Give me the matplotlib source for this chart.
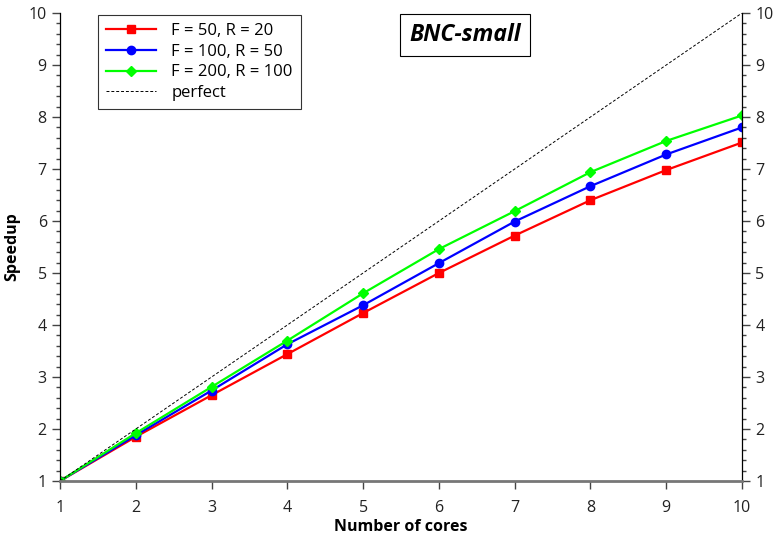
import matplotlib
matplotlib.use("Agg")
import matplotlib.pyplot as plt
from matplotlib.ticker import MultipleLocator

plt.rcParams['font.family'] = ['Open Sans', 'DejaVu Sans']

cores = [1, 2, 3, 4, 5, 6, 7, 8, 9, 10]
speed_f50 = [1.0, 1.85, 2.65, 3.44, 4.23, 5.00, 5.72, 6.40, 6.98, 7.51]
speed_f100 = [1.0, 1.88, 2.74, 3.63, 4.38, 5.19, 5.99, 6.67, 7.28, 7.80]
speed_f200 = [1.0, 1.92, 2.81, 3.70, 4.61, 5.46, 6.19, 6.94, 7.54, 8.03]
perfect = [1, 2, 3, 4, 5, 6, 7, 8, 9, 10]

fig = plt.figure(figsize=(7.77, 5.35), dpi=100)
ax = fig.add_axes([0.0772, 0.1009, 0.8778, 0.8748])

ax.plot(cores, speed_f50, color='#ff0000', lw=1.6, marker='s', ms=6, label='F = 50, R = 20')
ax.plot(cores, speed_f100, color='#0000ff', lw=1.6, marker='o', ms=6, label='F = 100, R = 50')
ax.plot(cores, speed_f200, color='#00ff00', lw=1.6, marker='D', ms=5, label='F = 200, R = 100')
ax.plot(cores, perfect, color='black', lw=0.7, ls=(0, (3, 2)), label='perfect')

ax.set_xlim(1, 10)
ax.set_ylim(1, 10)
ax.xaxis.set_major_locator(MultipleLocator(1))
ax.yaxis.set_major_locator(MultipleLocator(1))
ax.yaxis.set_minor_locator(MultipleLocator(0.2))
ax.tick_params(axis='both', which='both', direction='out', color='#444444', labelsize=11.5,
               labelcolor='#222222')
ax.tick_params(axis='y', which='both', left=True, right=True, labelleft=True, labelright=True)
ax.tick_params(axis='x', which='major', pad=8)
ax.tick_params(which='major', length=6, width=1)
ax.tick_params(which='minor', length=3, width=1)
ax.spines['left'].set_color('black')
ax.spines['right'].set_color('black')
ax.spines['left'].set_linewidth(0.9)
ax.spines['right'].set_linewidth(0.9)
ax.spines['bottom'].set_color('#777777')
ax.spines['bottom'].set_linewidth(2)
ax.spines['top'].set_visible(False)

ax.set_xlabel('Number of cores', fontweight='bold', fontsize=11.5, labelpad=2)
ax.set_ylabel('Speedup', fontweight='bold', fontsize=11.5, labelpad=6)

leg = ax.legend(loc='upper left', bbox_to_anchor=(0.053, 1.0), fontsize=12, frameon=True,
                fancybox=False, edgecolor='black', handlelength=3.0, borderpad=0.5,
                labelspacing=0.28, handletextpad=0.9, borderaxespad=0.1)
leg.get_frame().set_linewidth(0.8)

ax.text(0.594, 0.953, 'BNC-small', transform=ax.transAxes, fontsize=16.5, fontweight='bold',
        fontstyle='italic', ha='center', va='center',
        bbox=dict(boxstyle='square,pad=0.4', fc='white', ec='black', lw=0.8))

fig.savefig('out.png', dpi=100)
